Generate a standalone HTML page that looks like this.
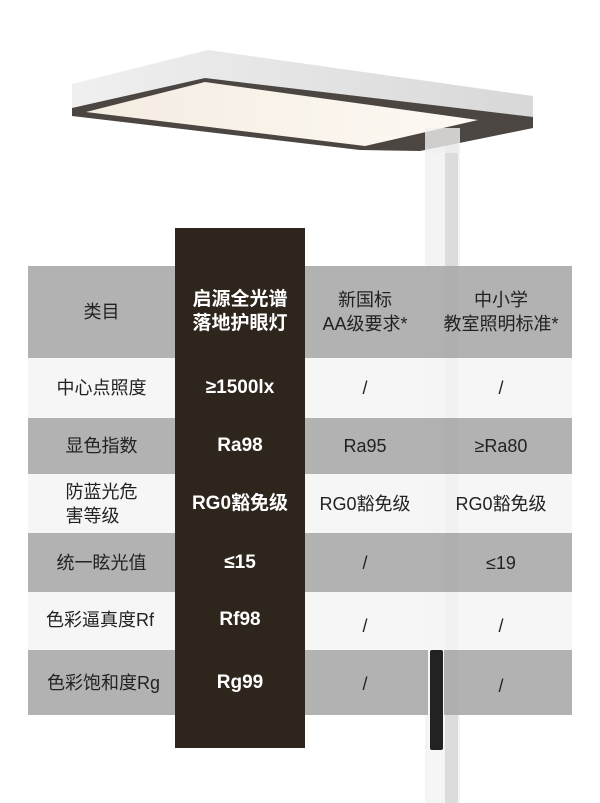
<!DOCTYPE html>
<html><head><meta charset="utf-8"><style>
body{margin:0;width:600px;height:803px;background:#fff;position:relative;overflow:hidden;font-family:"Liberation Sans","Noto Sans CJK SC",sans-serif;}
.a{position:absolute}
.row{position:absolute;left:28px;width:544px}
.c{position:absolute;display:flex;align-items:center;justify-content:center;text-align:center;font-size:18px;color:#222;line-height:24px}
.w{color:#fff;font-weight:bold;font-size:19px}
</style></head><body>
<svg class="a" style="left:0;top:0" width="600" height="803">
<defs><linearGradient id="g" x1="0" x2="1"><stop offset="0" stop-color="#f4ece1"/><stop offset="1" stop-color="#fdf9f3"/></linearGradient>
<linearGradient id="b" x1="0" x2="1"><stop offset="0" stop-color="#f0f0f0"/><stop offset="1" stop-color="#d8d8d8"/></linearGradient></defs>
<rect x="425" y="130" width="35" height="673" fill="#f4f4f4"/>
<rect x="445" y="130" width="13" height="673" fill="#dcdcdc"/>
<polygon points="72,84 208,50 533,96 533,128 420,151 72,116" fill="url(#b)"/>
<polygon points="72,108 205,78 533,117 533,128 420,151 360,150 72,116" fill="#4b4641"/>
<polygon points="86,112 205,82 478,120 365,146" fill="url(#g)"/>
<rect x="425" y="128" width="35" height="25" fill="#f0f0f0" opacity="0.8"/>
</svg>
<div class="row" style="top:266px;height:92px;background:rgba(170,170,170,0.9)"></div>
<div class="row" style="top:358px;height:60px;background:rgba(245,245,245,0.85)"></div>
<div class="row" style="top:418px;height:56px;background:rgba(170,170,170,0.9)"></div>
<div class="row" style="top:474px;height:59px;background:rgba(245,245,245,0.85)"></div>
<div class="row" style="top:533px;height:59px;background:rgba(170,170,170,0.9)"></div>
<div class="row" style="top:592px;height:58px;background:rgba(245,245,245,0.85)"></div>
<div class="row" style="top:650px;height:65px;background:rgba(170,170,170,0.9)"></div>
<div class="a" style="left:175px;top:228px;width:130px;height:520px;background:#2e251c"></div>
<div class="a" style="left:428px;top:640px;width:16px;height:160px;background:#f6f6f6"></div>
<div class="a" style="left:430px;top:650px;width:13px;height:100px;background:#222;border-radius:2px"></div>
<div class="c" style="left:28px;top:266px;width:147px;height:92px">类目</div>
<div class="c w" style="left:175px;top:266px;width:130px;height:92px">启源全光谱<br>落地护眼灯</div>
<div class="c" style="left:305px;top:266px;width:120px;height:92px">新国标<br>AA级要求*</div>
<div class="c" style="left:430px;top:266px;width:142px;height:92px">中小学<br>教室照明标准*</div>
<div class="c" style="left:28px;top:358px;width:147px;height:60px">中心点照度</div>
<div class="c w" style="left:175px;top:358px;width:130px;height:60px">≥1500lx</div>
<div class="c" style="left:305px;top:358px;width:120px;height:60px">/</div>
<div class="c" style="left:430px;top:358px;width:142px;height:60px">/</div>
<div class="c" style="left:28px;top:418px;width:147px;height:56px">显色指数</div>
<div class="c w" style="left:175px;top:418px;width:130px;height:56px">Ra98</div>
<div class="c" style="left:305px;top:418px;width:120px;height:56px">Ra95</div>
<div class="c" style="left:430px;top:418px;width:142px;height:56px">≥Ra80</div>
<div class="c" style="left:28px;top:474px;width:147px;height:59px;text-align:left">防蓝光危<br>害等级</div>
<div class="c w" style="left:175px;top:474px;width:130px;height:59px">RG0豁免级</div>
<div class="c" style="left:305px;top:474px;width:120px;height:59px">RG0豁免级</div>
<div class="c" style="left:430px;top:474px;width:142px;height:59px">RG0豁免级</div>
<div class="c" style="left:28px;top:533px;width:147px;height:59px">统一眩光值</div>
<div class="c w" style="left:175px;top:533px;width:130px;height:59px">≤15</div>
<div class="c" style="left:305px;top:533px;width:120px;height:59px">/</div>
<div class="c" style="left:430px;top:533px;width:142px;height:59px">≤19</div>
<div class="c" style="left:28px;top:592px;width:147px;height:58px;justify-content:flex-start;padding-left:18px;box-sizing:border-box;align-items:flex-start;padding-top:16px">色彩逼真度Rf</div>
<div class="c w" style="left:175px;top:592px;width:130px;height:58px;align-items:flex-start;padding-top:16px;box-sizing:border-box">Rf98</div>
<div class="c" style="left:305px;top:592px;width:120px;height:68px">/</div>
<div class="c" style="left:430px;top:592px;width:142px;height:68px">/</div>
<div class="c" style="left:28px;top:650px;width:147px;height:65px;padding-left:4px;box-sizing:border-box">色彩饱和度Rg</div>
<div class="c w" style="left:175px;top:650px;width:130px;height:65px">Rg99</div>
<div class="c" style="left:305px;top:650px;width:120px;height:68px">/</div>
<div class="c" style="left:430px;top:650px;width:142px;height:72px">/</div>
</body></html>
